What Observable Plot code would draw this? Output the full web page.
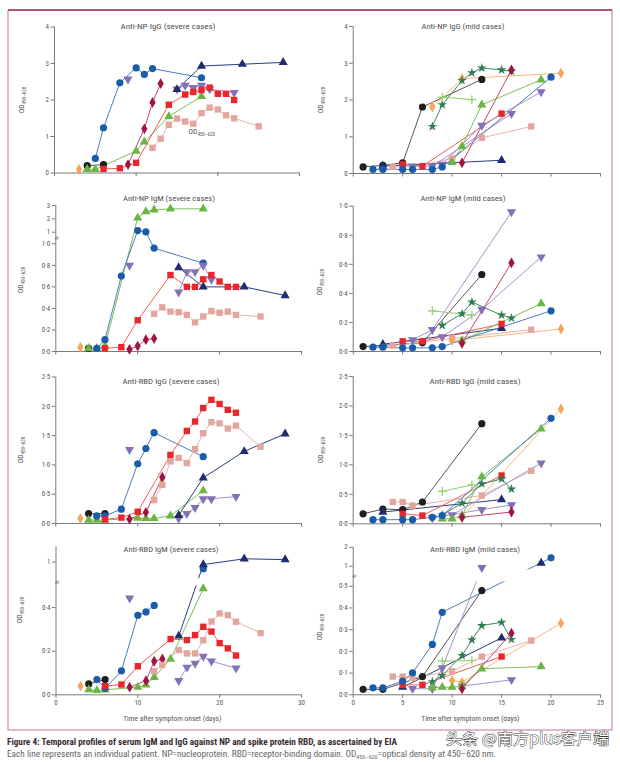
<!DOCTYPE html>
<html><head><meta charset="utf-8">
<script src="https://cdn.jsdelivr.net/npm/d3@7"></script>
<script src="https://cdn.jsdelivr.net/npm/@observablehq/plot@0.6"></script>
<style>
body{margin:0;background:#fff;}
#root{position:relative;width:620px;height:762px;overflow:hidden;background:#fff;}
</style></head>
<body><div id="root"></div>
<script>
// ---------- data (day, OD) per patient ----------
const npIgGSevere = [
  ["orange", [[3,0.1]]],
  ["black", [[4,0.2],[6,0.23]]],
  ["green", [[4,0.1],[5,0.1],[10,0.6],[11,0.85],[14,1.55],[18,2.1]]],
  ["blue", [[5,0.4],[6,1.24],[8,2.47],[10,2.88],[11,2.7],[12,2.86],[18,2.61]]],
  ["purple2", [[9,2.57]]],
  ["purple", [[15,2.3],[16,2.4],[17,2.34],[18,2.4],[19,2.3],[22,2.2]]],
  ["navy", [[15,2.29],[18,2.93],[23,2.98],[28,3.03]]],
  ["crimson", [[9,0.23],[11,1.21],[12,1.93],[13,2.45]]],
  ["pink", [[12,0.69],[13,0.94],[14,1.32],[15,1.49],[16,1.41],[17,1.35],[18,1.64],[19,1.79],[20,1.74],[21,1.58],[22,1.5],[25,1.28]]],
  ["red", [[6,0.11],[8,0.13],[10,0.28],[14,1.87],[16,2.15],[17,2.22],[18,2.27],[19,2.34],[20,2.17],[21,2.17],[22,2.0]]]
];
const npIgGMild = [
  ["black", [[1,0.18],[3,0.22],[5,0.29],[7,1.81],[13,2.56]]],
  ["navy", [[3,0.2],[15,0.36]]],
  ["pink", [[4,0.18],[6,0.18],[10,0.41],[13,0.97],[18,1.28]]],
  ["red", [[5,0.25],[7,0.2],[15,1.63]]],
  ["purple", [[6,0.2],[8,0.2],[16,1.63]]],
  ["purple2", [[9,0.25],[13,1.31],[19,2.22]]],
  ["orange", [[8,1.81],[11,2.58],[21,2.73]]],
  ["star", [[8,1.28],[9,1.87],[11,2.53],[12,2.74],[13,2.87],[15,2.82],[16,2.78]]],
  ["plus", [[9,2.08],[12,2.01]]],
  ["green", [[10,0.3],[11,0.74],[13,1.87],[19,2.55]]],
  ["crimson", [[11,0.29],[16,2.82]]],
  ["blue", [[2,0.11],[3,0.11],[5,0.11],[6,0.11],[8,0.11],[9,0.18],[20,2.62]]]
];
const npIgMSevere = [
  ["orange", [[3,0.04]]],
  ["black", [[4,0.03]]],
  ["green", [[4,0.03],[5,0.03],[6,0.05],[10,2.07],[11,2.55],[12,2.67],[14,2.75],[18,2.75]]],
  ["blue", [[5,0.03],[6,0.11],[8,0.7],[10,1.12],[11,1.02],[12,0.96],[18,0.82]]],
  ["purple2", [[9,0.8]]],
  ["purple", [[15,0.55],[16,0.74],[17,0.74],[18,0.8],[19,0.67]]],
  ["navy", [[15,0.78],[18,0.6],[23,0.6],[28,0.52]]],
  ["pink", [[12,0.35],[13,0.41],[14,0.37],[15,0.365],[16,0.34],[17,0.27],[18,0.325],[19,0.375],[20,0.36],[21,0.37],[22,0.34],[25,0.325]]],
  ["red", [[6,0.03],[8,0.04],[10,0.29],[14,0.71],[16,0.6],[17,0.6],[18,0.67],[19,0.71],[20,0.65],[21,0.6],[22,0.6]]],
  ["crimson", [[9,0.02],[10,0.05],[11,0.11],[12,0.12]]]
];
const npIgMMild = [
  ["black", [[1,0.034],[7,0.06],[13,0.53]]],
  ["navy", [[3,0.05],[15,0.16]]],
  ["pink", [[4,0.04],[10,0.09],[18,0.15]]],
  ["red", [[5,0.07],[7,0.07],[15,0.19]]],
  ["purple", [[6,0.08],[8,0.15],[16,0.96]]],
  ["purple2", [[9,0.1],[13,0.29],[19,0.65]]],
  ["orange", [[10,0.075],[21,0.155]]],
  ["star", [[9,0.18],[11,0.26],[12,0.34],[15,0.25],[16,0.23]]],
  ["plus", [[8,0.28],[12,0.25]]],
  ["green", [[11,0.075],[19,0.33]]],
  ["crimson", [[11,0.057],[16,0.61]]],
  ["blue", [[2,0.03],[3,0.03],[5,0.025],[6,0.025],[8,0.025],[9,0.034],[20,0.28]]]
];
const rbdIgGSevere = [
  ["orange", [[3,0.086]]],
  ["black", [[4,0.17],[6,0.17]]],
  ["green", [[4,0.06],[5,0.06],[6,0.06],[10,0.09],[11,0.086],[12,0.086],[14,0.13],[18,0.56]]],
  ["blue", [[5,0.13],[6,0.13],[8,0.245],[10,1.02],[11,1.28],[12,1.55],[18,1.14]]],
  ["crimson", [[9,0.074],[11,0.19],[13,0.79]]],
  ["purple2", [[9,1.26]]],
  ["purple", [[15,0.086],[16,0.17],[17,0.27],[18,0.42],[19,0.42],[22,0.46]]],
  ["navy", [[15,0.14],[18,0.78],[23,1.23],[28,1.53]]],
  ["pink", [[12,0.4],[13,0.66],[14,1.06],[15,1.12],[16,1.03],[17,1.27],[18,1.54],[19,1.73],[20,1.71],[21,1.62],[22,1.67],[25,1.31]]],
  ["red", [[6,0.07],[8,0.1],[10,0.2],[14,1.17],[16,1.58],[17,1.74],[18,1.97],[19,2.11],[20,2.04],[21,1.94],[22,1.89]]]
];
const rbdIgGMild = [
  ["black", [[1,0.17],[3,0.25],[5,0.24],[7,0.37],[13,1.7]]],
  ["navy", [[3,0.2],[15,0.41]]],
  ["pink", [[4,0.37],[5,0.37],[6,0.31],[13,0.48],[18,0.9]]],
  ["red", [[5,0.17],[7,0.14],[15,0.82]]],
  ["purple", [[8,0.1],[13,0.24],[16,0.32]]],
  ["purple2", [[10,0.15],[19,1.03]]],
  ["orange", [[11,0.11],[21,1.95]]],
  ["star", [[9,0.15],[11,0.35],[13,0.68],[15,0.76],[16,0.59]]],
  ["plus", [[9,0.55],[12,0.66]]],
  ["green", [[9,0.085],[10,0.085],[11,0.14],[13,0.8],[19,1.61]]],
  ["crimson", [[11,0.11],[16,0.2]]],
  ["blue", [[2,0.07],[3,0.07],[5,0.07],[6,0.07],[8,0.11],[9,0.14],[20,1.79]]]
];
const rbdIgMSevere = [
  ["orange", [[3,0.04]]],
  ["black", [[4,0.05],[6,0.07]]],
  ["green", [[4,0.024],[5,0.02],[6,0.023],[10,0.035],[11,0.046],[12,0.08],[14,0.164],[18,0.487]]],
  ["blue", [[5,0.07],[6,0.03],[8,0.11],[10,0.365],[11,0.38],[12,0.41]]],
  ["blue2", [[18,0.92]]],
  ["crimson", [[9,0.035],[11,0.065],[12,0.154],[13,0.164]]],
  ["purple2", [[9,0.443]]],
  ["purple", [[15,0.065],[16,0.126],[17,0.144],[18,0.176],[19,0.154],[22,0.122]]],
  ["navy", [[15,0.27],[18,0.97],[23,1.04],[28,1.03]]],
  ["pink", [[12,0.108],[13,0.137],[15,0.205],[16,0.19],[17,0.19],[18,0.25],[19,0.336],[20,0.373],[21,0.365],[22,0.335],[25,0.283]]],
  ["red", [[6,0.04],[8,0.047],[10,0.131],[14,0.256],[16,0.251],[17,0.274],[18,0.312],[19,0.29],[20,0.237],[21,0.213],[22,0.18]]]
];
const rbdIgMMild = [
  ["black", [[1,0.025],[3,0.025],[7,0.084],[13,0.48]]],
  ["navy", [[5,0.035],[15,0.262]]],
  ["navy2", [[19,1.16]]],
  ["pink", [[4,0.084],[5,0.084],[6,0.078],[10,0.109],[13,0.176],[18,0.25]]],
  ["red", [[5,0.046],[7,0.046],[15,0.176]]],
  ["purple", [[6,0.028],[8,0.028],[9,0.124],[13,0.92]]],
  ["purple2", [[11,0.04],[16,0.069]]],
  ["orange", [[10,0.066],[11,0.058],[21,0.33]]],
  ["star", [[8,0.06],[9,0.089],[11,0.181],[12,0.253],[13,0.319],[15,0.334],[16,0.255]]],
  ["plus", [[9,0.155],[12,0.158]]],
  ["green", [[8,0.032],[9,0.035],[10,0.035],[11,0.04],[13,0.12],[19,0.13]]],
  ["crimson", [[11,0.028],[16,0.284]]],
  ["blue", [[2,0.032],[3,0.032],[5,0.063],[6,0.101],[8,0.232],[9,0.38],[20,1.44]]]
];

// ---------- tick values / labels ----------
const severeDays = [0,10,20,30];
const mildDays = [0,5,10,15,20,25];
const ticksIgG_NP = [0,1,2,3,4];
const ticksTenths = [0,0.2,0.4,0.6,0.8,1.0];
const ticksHalves = [0,0.5,1.0,1.5,2.0,2.5];
const ticksNPIgMLow = [0,0.2,0.4,0.6,0.8,1.0];
const ticksNPIgMHigh = [1.0001,2,3];
const ticksRBDIgMSevLow = [0,0.2,0.4];
const ticksRBDIgMSevHigh = [1];
const ticksRBDIgMMildLow = [0,0.1,0.2,0.3,0.4,0.5];
const ticksRBDIgMMildHigh = [1,2];
const titles = ["Anti-NP IgG (severe cases)","Anti-NP IgG (mild cases)","Anti-NP IgM (severe cases)","Anti-NP IgM (mild cases)",
  "Anti-RBD IgG (severe cases)","Anti-RBD IgG (mild cases)","Anti-RBD IgM (severe cases)","Anti-RBD IgM (mild cases)"];
const xLabel = "Time after symptom onset (days)";

// ---------- styles ----------
const FONT = "'Liberation Sans Narrow','Roboto Condensed','Liberation Sans',Arial,sans-serif";
const AXIS = "#7a7a7a", TXT = "#555";
const triangleDown = {draw(ctx, size) {
  const y = -Math.sqrt(size / (Math.sqrt(3) * 3));
  ctx.moveTo(0, -y * 2); ctx.lineTo(-Math.sqrt(3) * y, y); ctx.lineTo(Math.sqrt(3) * y, y); ctx.closePath();
}};
const STY = {
  blue: {symbol: "circle", fill: "#1b5ca8", line: "#4d7cbf", r: 3.6},
  black: {symbol: "circle", fill: "#1e1e1e", line: "#555", r: 3.6},
  navy: {symbol: "triangle", fill: "#1f2d6d", line: "#2d3d82", r: 3.4},
  purple: {symbol: triangleDown, fill: "#8470b6", line: "#a293cb", r: 3.4},
  crimson: {symbol: "diamond", fill: "#a01442", line: "#c64468", r: 3.3},
  red: {symbol: "square", fill: "#e8262b", line: "#ef5e55", r: 3.6},
  pink: {symbol: "square", fill: "#e3a69f", line: "#e7b4ad", r: 3.6},
  green: {symbol: "triangle", fill: "#6cb543", line: "#7cbf58", r: 3.4},
  orange: {symbol: "diamond", fill: "#f7a55a", line: "#f6b87e", r: 3.3},
  star: {symbol: "star", fill: "#2f7d52", line: "#3f8a5f", r: 3},
  plus: {symbol: "plus", stroke: "#8fd06a", line: "#8fd06a", r: 3}
};
const fmtDot = d => d3.format(".1f")(d).replace(".", "\u00b7");
const fmtInt = d => String(Math.round(d));

const root = document.getElementById("root");

// background: frame + caption
const bg = d3.select(root).append("svg").attr("width", 620).attr("height", 762)
  .style("position", "absolute").style("left", "0px").style("top", "0px");
bg.append("path").attr("d", "M8,10V730H612V10").attr("fill", "none").attr("stroke", "#d3a2c1").attr("stroke-width", 1.5);
bg.append("line").attr("x1", 8).attr("x2", 612).attr("y1", 10).attr("y2", 10).attr("stroke", "#8c2152").attr("stroke-width", 1.6);
bg.append("text").attr("x", 7).attr("y", 745).attr("font-family", FONT).attr("font-size", 9).attr("font-weight", "bold")
  .attr("fill", "#3a2b33").attr("textLength", 390).attr("lengthAdjust", "spacingAndGlyphs")
  .text("Figure 4: Temporal profiles of serum IgM and IgG against NP and spike protein RBD, as ascertained by EIA");
const cap2 = bg.append("text").attr("x", 7).attr("y", 757).attr("font-family", FONT).attr("font-size", 8.5)
  .attr("fill", "#666").attr("textLength", 489).attr("lengthAdjust", "spacingAndGlyphs");
cap2.append("tspan").text("Each line represents an individual patient. NP=nucleoprotein. RBD=receptor-binding domain. OD");
cap2.append("tspan").attr("font-size", 5.5).attr("dy", 2).text("450\u2013620");
cap2.append("tspan").attr("dy", -2).text("=optical density at 450\u2013620 nm.");
bg.append("text").attr("x", 446).attr("y", 744).attr("font-family", "'Noto Sans CJK SC',sans-serif").attr("font-size", 15)
  .attr("fill", "#fff").attr("stroke", "#3a3a3a").attr("stroke-width", 0.9).attr("paint-order", "stroke")
  .attr("textLength", 163).attr("lengthAdjust", "spacingAndGlyphs").text("头条 @南方plus客户端");

function odLabel(svg, x, y) {
  const t = d3.select(svg).append("text").attr("transform", `translate(${x},${y}) rotate(-90)`)
    .attr("text-anchor", "middle").attr("font-family", FONT).attr("font-size", 7.5).attr("fill", TXT);
  t.append("tspan").text("OD");
  t.append("tspan").attr("font-size", 5).attr("dy", 2).text("450\u2013620");
}

function panel(cfg) {
  const {left, top, width, height, xDomain, xRange, yDomain, yRange, series, yAxes, xTicks, showX, band, brk,
         title, titleX, titleY, titleLen, labX, labY} = cfg;
  // broken-axis transform: data value -> display units (lower-segment units)
  const pxPerUnit = (yRange[0] - yRange[1]) / (yDomain[1] - yDomain[0]);
  const E = yRange.map(r => yDomain[0] + (yRange[0] - r) / pxPerUnit);
  const f = d3.scaleLinear().domain(yDomain).range(E);
  const yTop = yDomain[yDomain.length - 1];
  const marks = [];
  series.forEach(([key, pts]) => {
    const st = STY[key.replace(/\d+$/, "")];
    marks.push(Plot.line(pts, {x: d => d[0], y: d => f(d[1]), stroke: st.line, strokeWidth: 1}));
  });
  if (band) marks.push(Plot.rect([band], {x1: () => xDomain[0] + 0.3, x2: () => xDomain[1], y1: d => f(d[0]), y2: d => f(d[1]), fill: "white"}));
  marks.push(Plot.ruleY([f(yDomain[0])], {x1: () => xDomain[0], x2: () => xDomain[1], stroke: AXIS}));
  marks.push(Plot.ruleX([xDomain[0]], {y1: () => f(yDomain[0]), y2: () => f(yTop), stroke: AXIS}));
  marks.push(Plot.axisX({ticks: xTicks, tickSize: 3.5, tickPadding: 2, label: null, stroke: AXIS,
    fill: showX ? TXT : "none", tickFormat: d => String(d)}));
  yAxes.forEach(a => marks.push(Plot.axisY({ticks: a.ticks.map(f), tickFormat: d => a.format(f.invert(d)),
    tickSize: 3.5, tickPadding: 2, label: null, stroke: AXIS, fill: TXT})));
  if (brk !== undefined) marks.push(Plot.text([brk], {x: () => xDomain[0], y: d => f(d), text: () => "\u2248",
    rotate: -65, fontSize: 9, fill: "#666", dx: 1}));
  series.forEach(([key, pts]) => {
    const st = STY[key.replace(/\d+$/, "")];
    if (st.stroke) marks.push(Plot.dot(pts, {x: d => d[0], y: d => f(d[1]), symbol: st.symbol, stroke: st.stroke, strokeWidth: 1.2, r: st.r}));
    else marks.push(Plot.dot(pts, {x: d => d[0], y: d => f(d[1]), symbol: st.symbol, fill: st.fill, r: st.r}));
  });
  const chart = Plot.plot({
    width, height,
    marginLeft: xRange[0], marginRight: width - xRange[1],
    marginTop: yRange[yRange.length - 1], marginBottom: height - yRange[0],
    x: {domain: xDomain, range: xRange, axis: null},
    y: {domain: [E[0], E[E.length - 1]], range: [yRange[0], yRange[yRange.length - 1]], axis: null},
    style: {fontFamily: FONT, fontSize: "7px", color: TXT, background: "transparent", overflow: "visible"},
    marks
  });
  chart.style.position = "absolute";
  chart.style.left = left + "px";
  chart.style.top = top + "px";
  const s = d3.select(chart);
  s.append("text").attr("x", titleX).attr("y", titleY).attr("text-anchor", "middle").attr("font-family", FONT)
    .attr("font-size", 7).attr("fill", "#505050").attr("textLength", titleLen).attr("lengthAdjust", "spacingAndGlyphs").text(title);
  odLabel(chart, labX, labY);
  if (showX) s.append("text").attr("x", (xRange[0] + xRange[1]) / 2 - 6).attr("y", yRange[0] + 27)
    .attr("text-anchor", "middle").attr("font-family", FONT).attr("font-size", 7.5).attr("fill", TXT).text(xLabel);
  root.appendChild(chart);
  return chart;
}

const L = {left: 0, width: 310, xDomain: [0, 30], xTicks: severeDays};
const R = {left: 310, width: 300, xDomain: [0, 25], xRange: [42.7, 290], xTicks: mildDays};

const p1 = panel({...L, top: 10, height: 175, xRange: [54, 299], yDomain: [0, 4], yRange: [162.5, 16.5], series: npIgGSevere,
  yAxes: [{ticks: ticksIgG_NP, format: fmtInt}], title: titles[0], titleX: 168, titleY: 19, titleLen: 95, labX: 24, labY: 90});
// stray in-panel label of the original
{
  const t = d3.select(p1).append("text").attr("x", p1.scale("x").apply(18.1)).attr("y", p1.scale("y").apply(1.05))
    .attr("font-family", FONT).attr("font-size", 7.5).attr("fill", TXT);
  t.append("tspan").text("OD");
  t.append("tspan").attr("font-size", 5).attr("dy", 2).text("450\u2013620");
}
panel({...R, top: 10, height: 175, yDomain: [0, 4], yRange: [163, 16], series: npIgGMild,
  yAxes: [{ticks: ticksIgG_NP, format: fmtInt}], title: titles[1], titleX: 153, titleY: 19, titleLen: 83, labX: 12.5, labY: 90});
panel({...L, top: 185, height: 175, xRange: [55.3, 301], yDomain: [0, 1, 1.0001, 3], yRange: [166, 58.3, 46.7, 20],
  series: npIgMSevere, brk: 1.00005,
  yAxes: [{ticks: ticksNPIgMLow, format: fmtDot}, {ticks: ticksNPIgMHigh, format: fmtInt}],
  title: titles[2], titleX: 169, titleY: 15.5, titleLen: 92, labX: 23, labY: 95});
panel({...R, top: 185, height: 175, yDomain: [0, 1], yRange: [166, 20.7], series: npIgMMild,
  yAxes: [{ticks: ticksTenths, format: fmtDot}], title: titles[3], titleX: 153, titleY: 15.5, titleLen: 85, labX: 12, labY: 97});
panel({...L, top: 360, height: 178, xRange: [55.3, 301], yDomain: [0, 2.5], yRange: [163, 16.5], series: rbdIgGSevere,
  yAxes: [{ticks: ticksHalves, format: fmtDot}], title: titles[4], titleX: 171, titleY: 23.5, titleLen: 97, labX: 23, labY: 90});
panel({...R, top: 360, height: 178, yDomain: [0, 2.5], yRange: [163.3, 16], series: rbdIgGMild,
  yAxes: [{ticks: ticksHalves, format: fmtDot}], title: titles[5], titleX: 165, titleY: 23.5, titleLen: 91, labX: 12.5, labY: 90});
panel({...L, top: 538, height: 192, xRange: [55.5, 301], yDomain: [0, 0.5, 0.8, 1.18], yRange: [156.3, 47.3, 40.2, 8.7],
  series: rbdIgMSevere, band: [0.5, 0.8], brk: 0.65, showX: true,
  yAxes: [{ticks: ticksRBDIgMSevLow, format: fmtDot}, {ticks: ticksRBDIgMSevHigh, format: fmtInt}],
  title: titles[6], titleX: 171, titleY: 14, titleLen: 95, labX: 22, labY: 72});
panel({...R, top: 538, height: 192, yDomain: [0, 0.52, 0.8, 2], yRange: [156.3, 43.4, 31.5, 8.7],
  series: rbdIgMMild, band: [0.52, 0.8], brk: 0.66, showX: true,
  yAxes: [{ticks: ticksRBDIgMMildLow, format: fmtDot}, {ticks: ticksRBDIgMMildHigh, format: fmtInt}],
  title: titles[7], titleX: 165, titleY: 14, titleLen: 90, labX: 12, labY: 89});
</script>
</body></html>
